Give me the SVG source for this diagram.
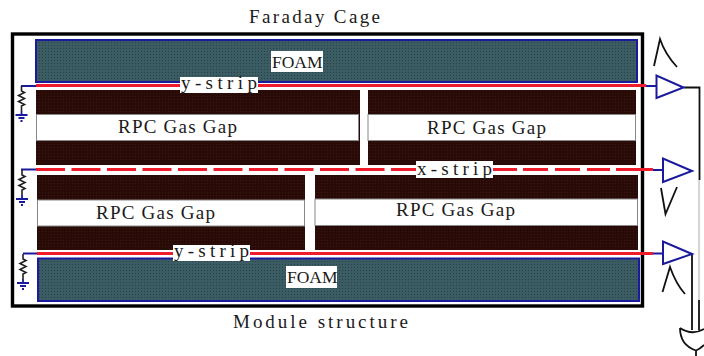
<svg xmlns="http://www.w3.org/2000/svg" width="704" height="356" viewBox="0 0 704 356">
<style>
text{font-family:"Liberation Serif",serif;font-size:19px;fill:#1a1a1a}
.fm{font-size:17.500px}
.foam{fill:url(#foamP);stroke:#1a1a9c;stroke-width:2}
.dark{fill:url(#darkP)}
.gap{fill:#fff;stroke:#888;stroke-width:1}
.lbl{fill:#fff}
.red{stroke:#f01c2c;stroke-width:3;fill:none}
.blue{stroke:#1a1a9c;stroke-width:1.800;fill:none}
.blk{stroke:#111;stroke-width:1.800;fill:none}
.amp{fill:#fff;stroke:#1a1a9c;stroke-width:2}
.res{stroke:#222;stroke-width:1.600;fill:none}
</style>
<defs>
<pattern id="foamP" width="3" height="3" patternUnits="userSpaceOnUse"><rect width="3" height="3" fill="#3a5c62"/><rect width="1" height="1" fill="#27434a"/></pattern>
<pattern id="darkP" width="3" height="3" patternUnits="userSpaceOnUse"><rect width="3" height="3" fill="#280b07"/><rect width="1" height="1" fill="#3c1610"/></pattern>
<g id="gnd"><path class="res" d="M0,0V5l3,1.500l-6,3l6,3l-6,3l6,3l-3,1.500V25"/><path class="blue" d="M0,25V29M-6,29H6M-3,32H3M-1,35H1"/></g>
</defs>
<rect width="704" height="356" fill="#fff"/>
<rect id="cage" x="12.500" y="34" width="630" height="272" fill="none" stroke="#000" stroke-width="3.400"/>
<g id="foam-top"><rect class="foam" x="36" y="40" width="601" height="42"/><rect class="lbl" x="271" y="51" width="52" height="21"/><text class="fm" x="272" y="68">FOAM</text></g>
<g id="foam-bottom"><rect class="foam" x="38" y="258.500" width="601" height="42.500"/><rect class="lbl" x="286" y="266" width="51" height="22"/><text class="fm" x="287" y="283">FOAM</text></g>
<g id="gap-1"><rect class="dark" x="36" y="90" width="324" height="75"/><rect class="gap" x="36.500" y="114.500" width="322" height="26"/><text x="118" y="133" textLength="119">RPC Gas Gap</text></g>
<g id="gap-2"><rect class="dark" x="368" y="90" width="268" height="75"/><rect class="gap" x="368" y="114.500" width="267.500" height="26"/><text x="427" y="134" textLength="119">RPC Gas Gap</text></g>
<g id="gap-3"><rect class="dark" x="37" y="175" width="268" height="75"/><rect class="gap" x="37.500" y="200" width="267" height="26"/><text x="96" y="219" textLength="119">RPC Gas Gap</text></g>
<g id="gap-4"><rect class="dark" x="315" y="175" width="323" height="75"/><rect class="gap" x="315" y="199" width="322.500" height="26.500"/><text x="396" y="216" textLength="119">RPC Gas Gap</text></g>
<g id="connectors">
<path class="red" d="M36,85.500H646"/>
<path class="red" d="M36,169.500H416" stroke-dasharray="29 6.500"/>
<path class="red" d="M493,169.500H517M523,169.500H548M555,169.500H580M587,169.500H610M616,169.500H653"/>
<path class="red" d="M37,253.500H653"/>
<path class="blue" d="M21,86H36M646,86H656M21,169.500H36M653,170H663M23,253.500H37M653,253.500H663"/>
<use href="#gnd" x="21.500" y="86"/>
<use href="#gnd" x="22" y="170"/>
<use href="#gnd" x="23" y="254"/>
<path class="blk" d="M684,87.500H699.500V180M692,254V330M699,300V330"/>
<path d="M699,180V300" fill="none" stroke="#aaa" stroke-width="1"/>
<path class="blk" d="M654,66L660,39Q665,54 677,67"/>
<path class="blk" d="M661,188L665.500,214L677,187"/>
<path class="blk" d="M662.500,292L670,267Q676,284 685,294"/>
<path class="blk" d="M680,328Q692,336 704,329M680,328Q680,345 696,350.500Q700,349 704,345M696,350V356"/>
</g>
<g id="amp-1"><path class="amp" d="M656.500,75.500V98L683.500,87.500Z"/></g>
<g id="amp-2"><path class="amp" d="M663,158.500V182L692,171Z"/></g>
<g id="amp-3"><path class="amp" d="M663,241.500V264L692,254Z"/></g>
<g id="label-y1"><rect class="lbl" x="180" y="77" width="78" height="16"/><text x="181" y="89" textLength="76">y-strip</text></g>
<g id="label-x"><rect class="lbl" x="416" y="161" width="77" height="17"/><text x="417" y="175" textLength="75">x-strip</text></g>
<g id="label-y2"><rect class="lbl" x="173" y="245" width="77" height="16"/><text x="174" y="257" textLength="75">y-strip</text></g>
<text x="249" y="23" textLength="131">Faraday Cage</text>
<text x="233" y="328" textLength="175">Module structure</text>
</svg>
